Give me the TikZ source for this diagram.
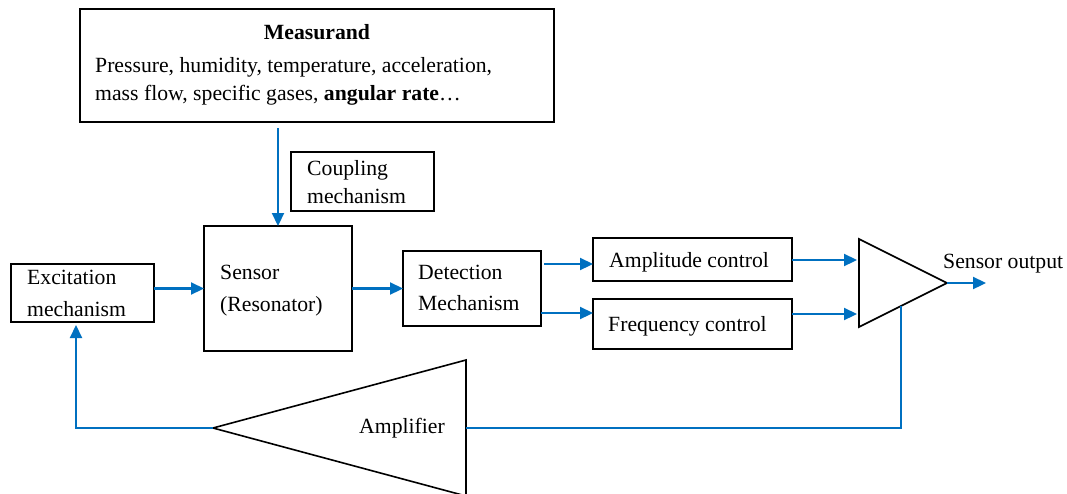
\documentclass[tikz,border=0pt]{standalone}
\usepackage{fontspec}
\setmainfont{Liberation Serif}
\usetikzlibrary{arrows.meta}
\definecolor{flowblue}{RGB}{0,112,192}
\begin{document}
\begin{tikzpicture}[x=1pt,y=-1pt,
  box/.style={draw=black,line width=1.6pt,inner sep=0pt,outer sep=0pt},
  lbl/.style={anchor=base west,inner sep=0pt,font=\fontsize{21.7}{26}\selectfont},
  flow/.style={draw=flowblue,line width=2.2pt},
  arr/.style={flow,-{Triangle[length=13pt,width=12pt]}},
  amp/.style={draw=black,line width=1.6pt,line join=miter}]
\useasboundingbox (0,0) rectangle (1067,493);
\clip (0,0) rectangle (1067,493);

% blocks
\node[box,minimum width=474pt,minimum height=113pt] (measurand) at (317,65.5) {};
\node[box,minimum width=143pt,minimum height=59pt] (coupling) at (362.5,181.5) {};
\node[box,minimum width=143pt,minimum height=58pt] (excitation) at (82.5,293) {};
\node[box,minimum width=148pt,minimum height=125pt] (sensor) at (278,288.5) {};
\node[box,minimum width=138pt,minimum height=75pt] (detection) at (472,288.5) {};
\node[box,minimum width=199pt,minimum height=43pt] (amplitude) at (692.5,259.5) {};
\node[box,minimum width=199pt,minimum height=50pt] (frequency) at (692.5,324) {};

% block texts
\node[lbl,anchor=base] (mtitle) at (317,39) {\textbf{Measurand}};
\node[lbl] (mline1) at (95,72) {Pressure, humidity, temperature, acceleration,};
\node[lbl] (mline2) at (95,100) {mass flow, specific gases, \textbf{angular rate}…};
\node[lbl] (coup1) at (307,175) {Coupling};
\node[lbl] (coup2) at (307,203) {mechanism};
\node[lbl] (exc1) at (27,284) {Excitation};
\node[lbl] (exc2) at (27,316) {mechanism};
\node[lbl] (sen1) at (220,279) {Sensor};
\node[lbl] (sen2) at (220,311) {(Resonator)};
\node[lbl] (det1) at (418,279) {Detection};
\node[lbl] (det2) at (418,310) {Mechanism};
\node[lbl] (amptxt) at (609,267) {Amplitude control};
\node[lbl] (freqtxt) at (608,331) {Frequency control};
\node[lbl] (outlbl) at (943,268) {Sensor output};

% comparator triangle
\coordinate (cmpTop) at (859,239);
\coordinate (cmpBot) at (859,327);
\coordinate (cmpOut) at (947,283);
\draw[amp] (cmpTop) -- (cmpOut) -- (cmpBot) -- cycle;

% feedback amplifier triangle
\coordinate (ampApex) at (213,428);
\coordinate (ampTop) at (466,360);
\coordinate (ampBot) at (466,496);
\coordinate (ampR) at (466,428);
\draw[amp] (ampTop) -- (ampApex) -- (ampBot) -- cycle;
\node[lbl] (amplbl) at (359,433) {Amplifier};

% connector end points
\coordinate (ampIn) at (593,264);
\coordinate (freqIn) at (593,313);
\coordinate (cmpA) at (857,260);
\coordinate (cmpF) at (857,314);
\coordinate (outEnd) at (986,283);
\coordinate (fbStart) at (901,306);
\coordinate (excIn) at (76,325);

% signal flow
\draw[arr] ([yshift=-6pt]sensor.north |- measurand.south) -- (sensor.north);
\draw[arr] (excitation.east |- sensor.west) -- (sensor.west);
\draw[arr] (sensor.east) -- (detection.west);
\draw[arr] ([xshift=3pt]detection.east |- ampIn) -- (ampIn);
\draw[arr] (detection.east |- freqIn) -- (freqIn);
\draw[arr] (amplitude.east |- cmpA) -- (cmpA);
\draw[arr] (frequency.east |- cmpF) -- (cmpF);
\draw[arr] (cmpOut) -- (outEnd);
\draw[flow] (fbStart) |- (ampR);
\draw[arr] (ampApex) -| (excIn);
\end{tikzpicture}
\end{document}
